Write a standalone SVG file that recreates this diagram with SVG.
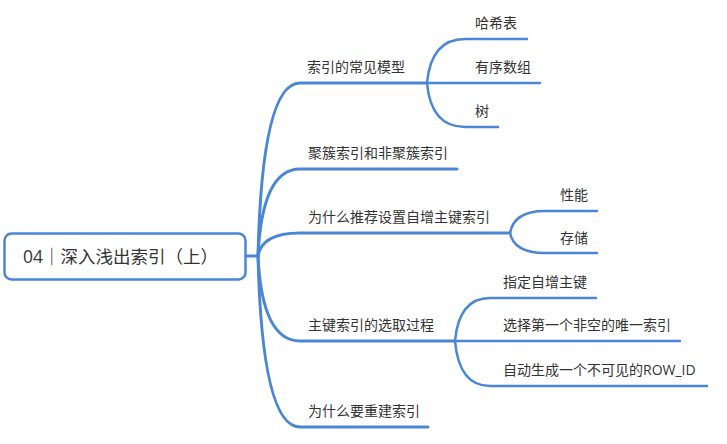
<svg xmlns="http://www.w3.org/2000/svg" width="727" height="444" viewBox="0 0 727 444">
<style>
.c{fill:none;stroke:#4a86d6;stroke-linecap:round}
.m{stroke-width:3}
.s{stroke-width:2.5}
text{font-family:"Open Sans","Noto Sans CJK SC",sans-serif;fill:#333;font-size:14px}
.root{font-size:17.5px}
</style>
<rect width="727" height="444" fill="#fff"/>
<g id="connectors">
<path class="c m" d="M246,256 L258,256"/>
<path class="c m" d="M258,256 Q262,83 300,83 L427,83"/>
<path class="c m" d="M258,256 Q262,169 300,169 L457,169"/>
<path class="c m" d="M258,256 Q262,233 300,233 L510,233"/>
<path class="c m" d="M258,256 Q262,341 300,341 L455,341"/>
<path class="c m" d="M258,256 Q262,427 300,427 L428,427"/>
<path class="c s" d="M427,83 Q431,39 465,39 L527,39"/>
<path class="c s" d="M427,83 L540,83"/>
<path class="c s" d="M427,83 Q431,127 465,127 L498,127"/>
<path class="c s" d="M510,233 Q514,211 545,211 L597,211"/>
<path class="c s" d="M510,233 Q514,253 545,253 L597,253"/>
<path class="c s" d="M455,341 Q459,298 490,298 L596,298"/>
<path class="c s" d="M455,341 L680,341"/>
<path class="c s" d="M455,341 Q459,386 490,386 L707,386"/>
</g>
<g id="root">
<rect x="4.5" y="233.5" width="241" height="46" rx="7" fill="#fff" stroke="#4a86d6" stroke-width="2.5"/>
<text class="root" x="23" y="263">04｜深入浅出索引（上）</text>
</g>
<g id="n1"><text x="307" y="72">索引的常见模型</text></g>
<g id="n1a"><text x="475" y="28">哈希表</text></g>
<g id="n1b"><text x="475" y="72">有序数组</text></g>
<g id="n1c"><text x="475" y="116">树</text></g>
<g id="n2"><text x="308" y="158">聚簇索引和非聚簇索引</text></g>
<g id="n3"><text x="308" y="222">为什么推荐设置自增主键索引</text></g>
<g id="n3a"><text x="560" y="200">性能</text></g>
<g id="n3b"><text x="560" y="243">存储</text></g>
<g id="n4"><text x="308" y="330">主键索引的选取过程</text></g>
<g id="n4a"><text x="503" y="287">指定自增主键</text></g>
<g id="n4b"><text x="503" y="330">选择第一个非空的唯一索引</text></g>
<g id="n4c"><text x="503" y="375">自动生成一个不可见的ROW_ID</text></g>
<g id="n5"><text x="308" y="416">为什么要重建索引</text></g>
</svg>
